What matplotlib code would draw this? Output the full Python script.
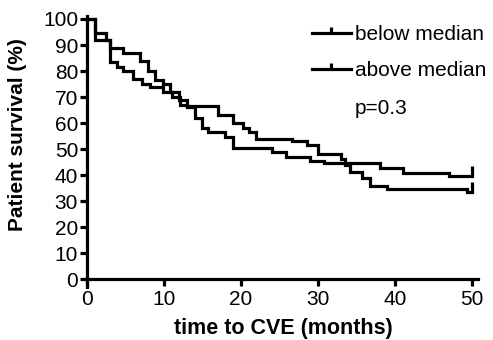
import matplotlib

matplotlib.use("Agg")
import matplotlib.pyplot as plt
from matplotlib.lines import Line2D

plt.rcParams.update({"font.family": ["Liberation Sans", "DejaVu Sans"], "font.size": 15})

# Kaplan-Meier steps (time in months, survival in %)
below_t = [0, 1, 2.5, 3, 4.7, 6.9, 7.9, 8.8, 9.9, 10.8, 12, 13, 17, 19, 20.3, 21, 22,
           26.6, 28.6, 30, 33, 33.5, 34.2, 35.7, 36.8, 39, 49.4, 50]
below_s = [100, 94.5, 92, 89, 87, 84, 80, 76.5, 75, 72, 69, 66.5, 63, 60, 58, 56.5, 54,
           53, 51.5, 48, 46, 43.8, 41.3, 38.7, 36, 34.5, 33.6, 33.6]
above_t = [0, 1, 3, 3.9, 4.7, 6, 7.1, 8.2, 9.9, 11, 12.1, 13, 14, 14.9, 15.7, 17.9, 19,
           24, 25.9, 29, 30.8, 38, 41, 47, 50]
above_s = [100, 92, 83.5, 81.7, 80, 77, 75, 74, 72, 70, 67, 66, 62, 58, 56.6, 54.6, 50.5,
           49, 47, 45.4, 44.5, 42.7, 40.7, 39.6, 39.6]
labels = ["below median", "above median"]
p_text = "p=0.3"
xticks = [0, 10, 20, 30, 40, 50]
yticks = list(range(0, 101, 10))

HALF_TICK = [(0, 0), (0, 1)]  # censor mark pointing up from the line

fig = plt.figure(figsize=(4.93, 3.40), dpi=100)
ax = fig.add_axes([0.1704, 0.1559, 0.7992, 0.7959])

lw = 2.3
for t, s in [(below_t, below_s), (above_t, above_s)]:
    ax.step(t, s, where="post", color="k", lw=lw, solid_joinstyle="miter")
    ax.plot(t[-1], s[-1], marker=HALF_TICK, color="k", ms=14, mew=lw)

ax.set_xlim(-0.4, 50.8)
ax.set_ylim(-3, 101)
ax.spines["bottom"].set_position(("data", 0))
ax.spines["left"].set_position(("data", 0))
for side in ("top", "right"):
    ax.spines[side].set_visible(False)
for side in ("bottom", "left"):
    ax.spines[side].set_linewidth(2.3)
ax.set_xticks(xticks)
ax.set_yticks(yticks)
ax.tick_params(width=2.3, length=5, labelsize=15)
ax.tick_params(axis="x", pad=3)
ax.tick_params(axis="y", pad=1.5)

ax.set_xlabel("time to CVE (months)", fontweight="bold", fontsize=15.5, va="center")
ax.set_ylabel("Patient survival (%)", fontweight="bold", fontsize=15, va="center")
ax.xaxis.set_label_coords(0.505, -0.152)
ax.yaxis.set_label_coords(-0.170, 0.565)

handles = [Line2D([], [], color="k", lw=lw, marker=HALF_TICK, ms=9, mew=lw) for _ in labels]
fig.legend(handles, labels, loc="upper left", bbox_to_anchor=(312 / 493, 0.927),
           frameon=False, fontsize=15, handlelength=1.85, handletextpad=0.2,
           labelspacing=0.83, borderpad=0, borderaxespad=0, numpoints=1)
fig.text(355 / 493, 1 - 108 / 340, p_text, fontsize=15, va="center")

fig.savefig("out.png", dpi=100)
